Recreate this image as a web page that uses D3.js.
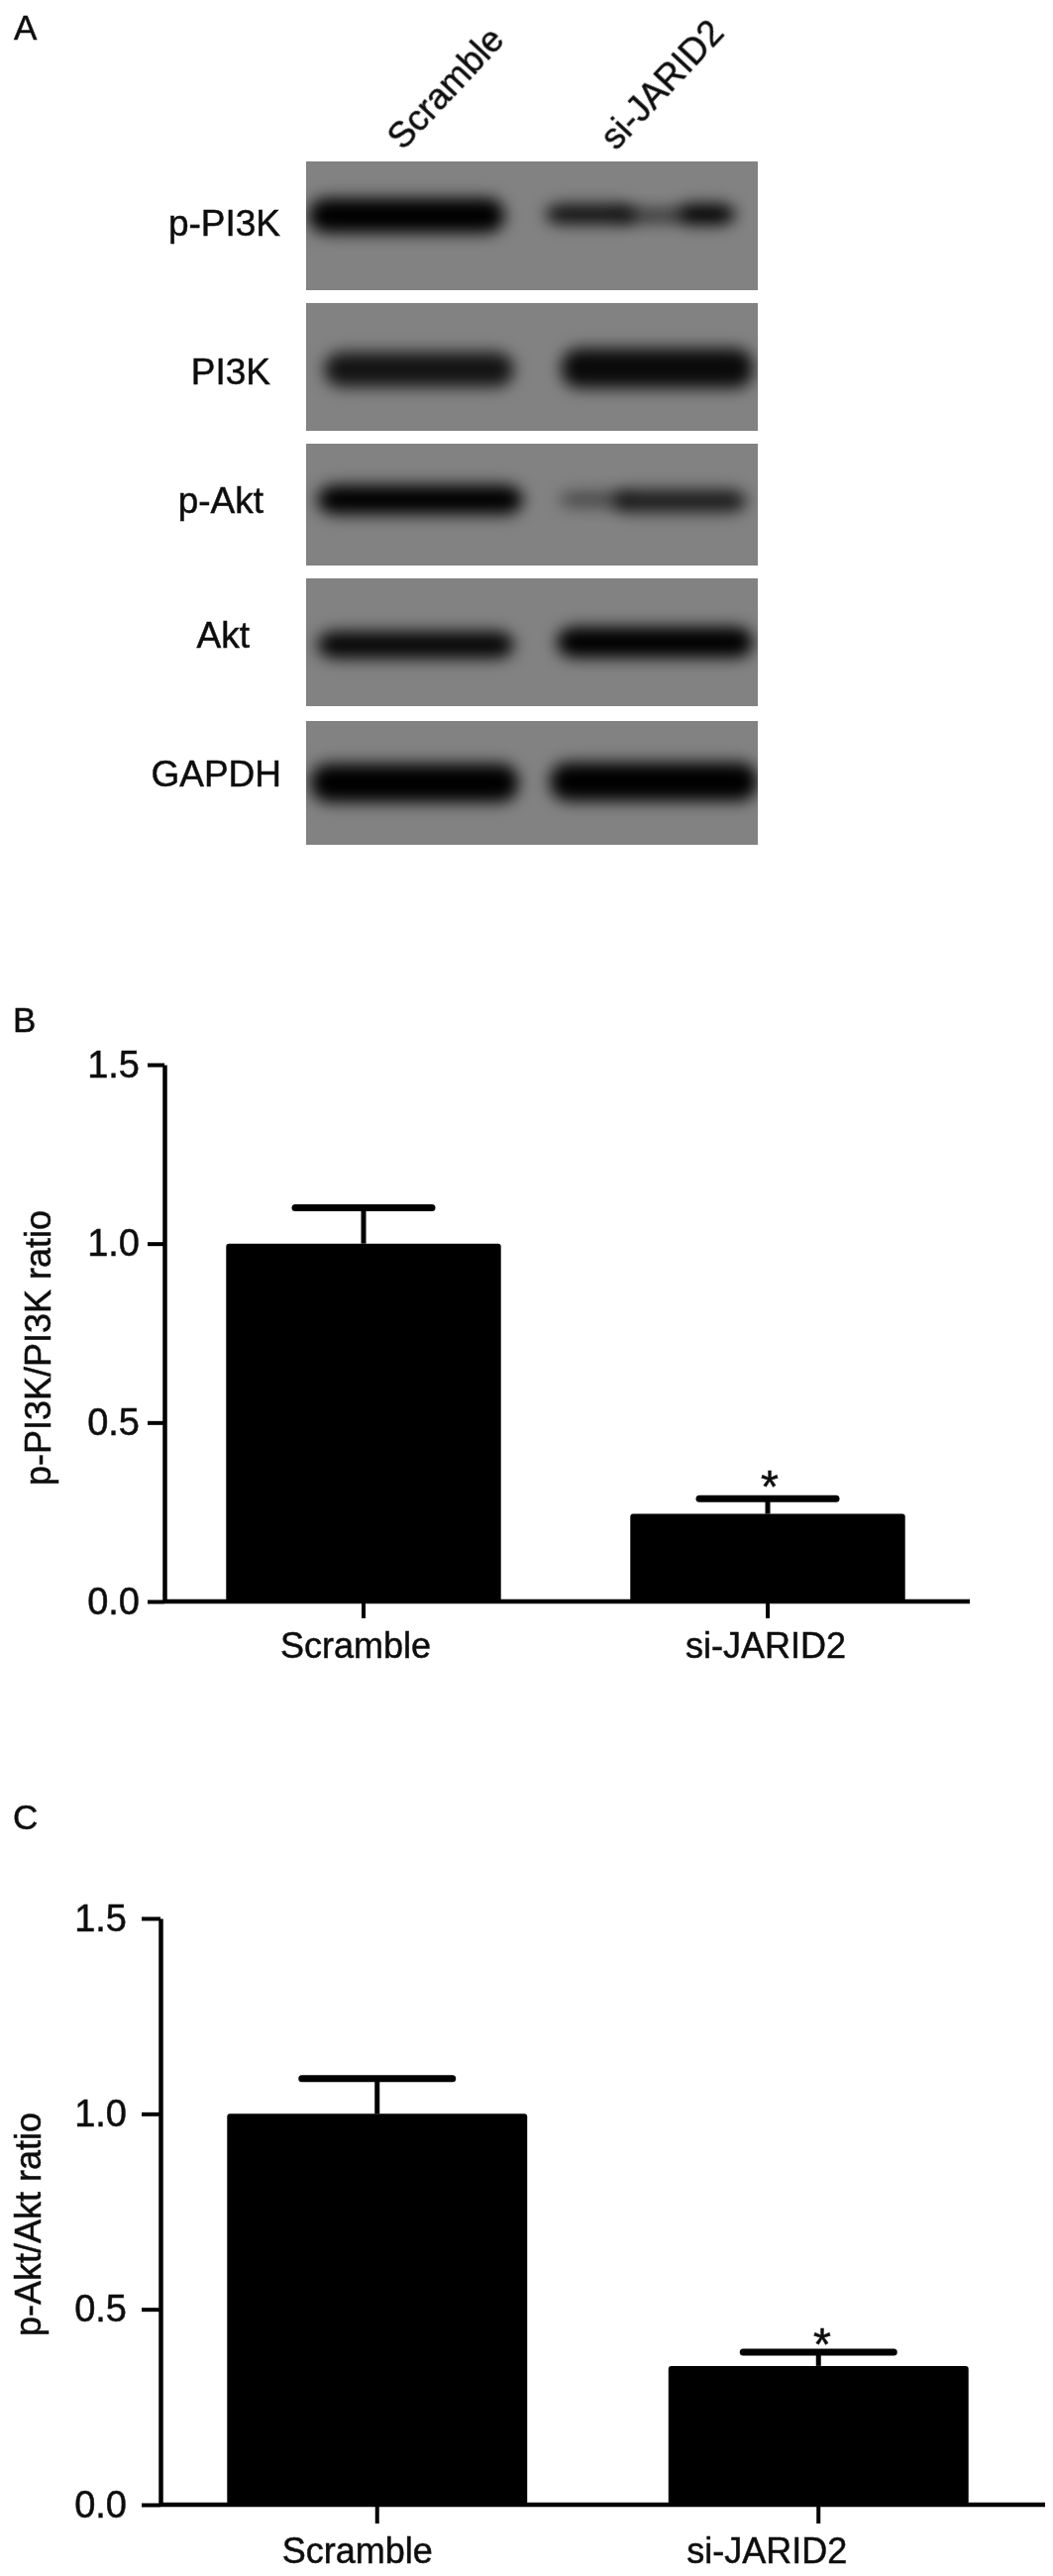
<!DOCTYPE html>
<html>
<head>
<meta charset="utf-8">
<script src="https://cdn.jsdelivr.net/npm/d3@7"></script>
<style>
    html, body { margin: 0; padding: 0; background: #ffffff; }
    text { font-family: "Liberation Sans", Arial, sans-serif; fill: #111111; stroke: #111111; stroke-width: 0.5px; }
</style>
</head>
<body>
<div id="charts"></div>
<script>
// blot panel, names top to bottom
const blotLabels = ['p-PI3K', 'PI3K', 'p-Akt', 'Akt', 'GAPDH'];
const laneNames = ['Scramble', 'si-JARID2'];
// band readings in percent of the blot: blot index, from, to, centre, thickness, darkness
const blotBands = [
    [0, 0.5, 44, 42, 27, 1],
    [0, 53, 73, 41, 15, 0.9],
    [0, 69, 84, 42, 11, 0.6],
    [0, 82, 95, 41, 16, 1],
    [1, 4, 46, 52, 27, 0.85],
    [1, 56.5, 99, 51, 31, 0.92],
    [2, 2.5, 48, 46, 24, 1],
    [2, 56, 72, 46, 13, 0.45],
    [2, 68, 97.5, 47, 18, 0.8],
    [3, 2.5, 46, 52, 21, 0.95],
    [3, 55.5, 99, 50, 24, 1],
    [4, 1, 47, 50, 31, 1],
    [4, 54, 100, 49, 31, 1]
];

// bar panels
const categories = ['Scramble', 'si-JARID2'];
const yTicks = [0, 0.5, 1.0, 1.5];
const pi3kRatio = [1.0, 0.245];
const pi3kError = [0.1, 0.042];
const aktRatio = [1.0, 0.355];
const aktError = [0.09, 0.035];

const WIDTH = 1063, HEIGHT = 2601;

let svg = d3.select('#charts').append('svg')
    .attr('width', WIDTH)
    .attr('height', HEIGHT)
    .style('display', 'block');

let defs = svg.append('defs');
defs.append('filter').attr('id', 'band-blur')
    .attr('x', '-20%').attr('y', '-100%').attr('width', '140%').attr('height', '300%')
    .append('feGaussianBlur').attr('stdDeviation', 8);
defs.append('filter').attr('id', 'soft')
    .attr('x', '-5%').attr('y', '-5%').attr('width', '110%').attr('height', '110%')
    .append('feGaussianBlur').attr('stdDeviation', 0.6);

function panelLetter(letter, x, y, size) {
    svg.append('text').attr('x', x).attr('y', y)
        .attr('font-size', size).attr('filter', 'url(#soft)').text(letter);
}

//
// Panel A - western blot
//
function drawBlots() {
    const blotTops = [163, 306, 448, 584, 728];
    const blotBottoms = [293, 435, 571, 713, 853];
    const labelRight = [283, 273, 266, 252, 284];
    const labelBase = [238, 388, 518, 654, 794];
    let x = d3.scaleLinear().domain([0, 100]).range([309, 765]);

    blotLabels.forEach(function (label, i) {
        let y = d3.scaleLinear().domain([0, 100]).range([blotTops[i], blotBottoms[i]]);
        defs.append('clipPath').attr('id', 'blot-' + i)
            .append('rect')
            .attr('x', x(0)).attr('y', y(0))
            .attr('width', x(100) - x(0)).attr('height', y(100) - y(0));

        let g = svg.append('g').attr('clip-path', 'url(#blot-' + i + ')');
        g.append('rect')
            .attr('x', x(0)).attr('y', y(0))
            .attr('width', x(100) - x(0)).attr('height', y(100) - y(0))
            .attr('fill', '#828282');

        g.selectAll('.band')
            .data(blotBands.filter(function (d) { return d[0] === i; }))
            .enter().append('rect')
            .attr('class', 'band')
            .attr('x', function (d) { return x(d[1]); })
            .attr('y', function (d) { return y(d[3] - d[4] / 2); })
            .attr('width', function (d) { return x(d[2]) - x(d[1]); })
            .attr('height', function (d) { return y(d[4]) - y(0); })
            .attr('rx', 18)
            .attr('fill', '#000000')
            .attr('fill-opacity', function (d) { return d[5]; })
            .attr('filter', 'url(#band-blur)');

        svg.append('text')
            .attr('x', labelRight[i])
            .attr('y', labelBase[i])
            .attr('text-anchor', 'end')
            .attr('font-size', 37)
            .attr('filter', 'url(#soft)')
            .text(label);
    });

    const laneX = [407, 622];
    laneNames.forEach(function (name, i) {
        svg.append('text')
            .attr('transform', 'translate(' + laneX[i] + ',153) rotate(-47)')
            .attr('font-size', 36)
            .attr('filter', 'url(#soft)')
            .text(name);
    });
}

//
// Panels B and C - bar charts with one sided error bars
//
function drawBars(options) {
    let x = d3.scaleBand().domain(categories).range(options.xRange)
        .paddingInner(0.32).paddingOuter(0.16);
    let y = d3.scaleLinear().domain([0, 1.5]).range(options.yRange);
    let g = svg.append('g').attr('filter', 'url(#soft)');
    let rows = categories.map(function (c, i) {
        return { name: c, value: options.values[i], error: options.errors[i] };
    });

    g.selectAll('.bar')
        .data(rows)
        .enter().append('rect')
        .attr('class', 'bar')
        .attr('x', function (d) { return x(d.name); })
        .attr('y', function (d) { return y(d.value); })
        .attr('width', x.bandwidth())
        .attr('height', function (d) { return y(0) - y(d.value); })
        .attr('rx', 3)
        .attr('fill', '#000000');

    let centre = function (d) { return x(d.name) + x.bandwidth() / 2; };
    g.selectAll('.err')
        .data(rows)
        .enter().append('line')
        .attr('class', 'err')
        .attr('x1', centre).attr('x2', centre)
        .attr('y1', function (d) { return y(d.value); })
        .attr('y2', function (d) { return y(d.value + d.error); })
        .attr('stroke', '#000000')
        .attr('stroke-width', 5);
    g.selectAll('.cap')
        .data(rows)
        .enter().append('line')
        .attr('class', 'cap')
        .attr('x1', function (d) { return centre(d) - options.capHalf; })
        .attr('x2', function (d) { return centre(d) + options.capHalf; })
        .attr('y1', function (d) { return y(d.value + d.error); })
        .attr('y2', function (d) { return y(d.value + d.error); })
        .attr('stroke', '#000000')
        .attr('stroke-width', 7)
        .attr('stroke-linecap', 'round');

    let yAxis = d3.axisLeft(y).tickValues(yTicks).tickFormat(d3.format('.1f'))
        .tickSize(options.tickLen).tickSizeOuter(0).tickPadding(options.yPad);
    let yAxisEL = g.append('g')
        .attr('transform', 'translate(' + options.axisX + ',0)')
        .call(yAxis);
    let xAxis = d3.axisBottom(x).tickSize(options.tickLen).tickSizeOuter(0).tickPadding(14);
    let xAxisEL = g.append('g')
        .attr('transform', 'translate(0,' + y(0) + ')')
        .call(xAxis);
    // baseline runs on past the scale range, like the original plot
    xAxisEL.select('.domain').remove();
    g.append('line')
        .attr('x1', options.axisX).attr('x2', options.axisEnd)
        .attr('y1', y(0)).attr('y2', y(0))
        .attr('stroke', '#000000').attr('stroke-width', 4.5);

    yAxisEL.selectAll('.tick text').attr('font-size', 38).attr('fill', '#111111')
        .attr('font-family', '"Liberation Sans", Arial, sans-serif');
    xAxisEL.selectAll('.tick text').attr('font-size', 36).attr('fill', '#111111')
        .attr('font-family', '"Liberation Sans", Arial, sans-serif')
        .attr('dx', function (d, i) { return options.labelShift[i]; });
    g.selectAll('.tick line').attr('stroke', '#000000').attr('stroke-width', 4);
    g.selectAll('.domain').attr('stroke', '#000000').attr('stroke-width', 4.5);

    g.append('text')
        .attr('transform', 'translate(' + options.titleX + ',' + options.titleY + ') rotate(-90)')
        .attr('text-anchor', 'middle')
        .attr('font-size', 36)
        .text(options.title);

    g.append('text')
        .attr('x', options.starX)
        .attr('y', options.starY)
        .attr('text-anchor', 'middle')
        .attr('font-size', 46)
        .text('*');
}

panelLetter('A', 14, 40, 35);
drawBlots();

panelLetter('B', 13, 1042, 35);
drawBars({
    values: pi3kRatio, errors: pi3kError,
    xRange: [163, 979], yRange: [1617, 1075],
    axisX: 166, axisEnd: 979,
    capHalf: 69, tickLen: 17, yPad: 8,
    labelShift: [-8, -2],
    title: 'p-PI3K/PI3K ratio', titleX: 51, titleY: 1361,
    starX: 777, starY: 1517
});

panelLetter('C', 13, 1847, 35);
drawBars({
    values: aktRatio, errors: aktError,
    xRange: [158, 1049], yRange: [2529, 1937],
    axisX: 162, axisEnd: 1055,
    capHalf: 76, tickLen: 19, yPad: 15,
    labelShift: [-20, -52],
    title: 'p-Akt/Akt ratio', titleX: 41, titleY: 2246,
    starX: 830, starY: 2383
});
</script>
</body>
</html>
